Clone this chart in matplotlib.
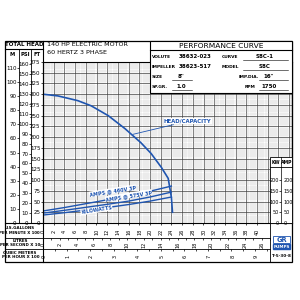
import matplotlib
matplotlib.use('Agg')
import matplotlib.pyplot as plt
from matplotlib.patches import Rectangle
from matplotlib.lines import Line2D
import matplotlib.transforms as mtransforms

plt.rcParams['font.family'] = ['Liberation Sans Narrow', 'DejaVu Sans']

# ---- data (flow in US gpm x 100) ----
head_flow = [0, 2.8, 6.5, 9.0, 12.2, 15.3, 18.3, 20.2, 22.1, 23.4, 24.0, 24.2]
head_ft = [300, 296, 285, 273, 250, 220, 187, 162, 130, 104, 60, 25]

power_flow = [0, 4, 8, 12, 16, 20, 24]
amps_460 = [56, 72, 90, 108, 127, 148, 172]
amps_575 = [46, 59, 73, 87, 102, 121, 144]
kilowatts = [37, 48, 60, 72, 86, 102, 121]

ft_ticks = list(range(0, 376, 25))
psi_ticks = list(range(0, 161, 10))
m_ticks = list(range(0, 111, 10))
gpm_ticks = list(range(0, 41, 2))
lps_ticks = list(range(0, 27, 2))
m3h_ticks = list(range(0, 10))
kwamp_ticks = [0, 50, 100, 150, 200]

BLUE = '#1f55b0'
W, H = 300, 300


def box(px0, py0, px1, py1):
    # figure-fraction rectangle from pixel corners
    return [px0 / W, 1 - py1 / H, (px1 - px0) / W, (py1 - py0) / H]


fig = plt.figure(figsize=(3, 3), dpi=100)
fig.patch.set_facecolor('white')

# ---- main grid ----
GX0, GX1, GY0, GY1 = 43, 292, 62, 223
XMAX = (GX1 - GX0) / 5.35
ax = fig.add_axes(box(GX0, GY0, GX1, GY1))
ax.set_xlim(0, XMAX)
ax.set_ylim(0, 375)
ax.set_xticks([i * 2 for i in range(24)])
ax.set_xticks([i * 0.4 for i in range(117)], minor=True)
ax.set_yticks(ft_ticks)
ax.set_yticks(list(range(0, 376, 5)), minor=True)
ax.grid(which='minor', color='#c4c4c4', lw=0.25)
ax.grid(which='major', color='#404040', lw=0.5)
ax.tick_params(which='both', length=0, labelleft=False, labelbottom=False)
ax.set_axisbelow(True)
for s in ax.spines.values():
    s.set_linewidth(0.8)

ax.plot(head_flow, head_ft, color=BLUE, lw=1.2, zorder=3)
ax.annotate('HEAD/CAPACITY', xy=(16.3, 205), xytext=(22.6, 237),
            fontsize=3.9, color=BLUE, fontweight='bold', va='center',
            bbox=dict(boxstyle='square,pad=0.05', fc='white', ec='none'),
            arrowprops=dict(arrowstyle='-', color=BLUE, lw=0.6), zorder=4)

ax2 = ax.twinx()
ax2.set_ylim(0, 750)
ax2.axis('off')
for vals, lab, xl, yl in [(amps_460, 'AMPS @ 460V 3P', 13.0, 150),
                          (amps_575, 'AMPS @ 575V 3P', 16.0, 128),
                          (kilowatts, 'KILOWATTS', 10.0, 60)]:
    ax2.plot(power_flow, vals, color=BLUE, lw=1.0)
    ax2.text(xl, yl, lab, fontsize=3.5, color=BLUE, fontweight='bold',
             rotation=9, ha='center', va='center',
             bbox=dict(boxstyle='square,pad=0.05', fc='white', ec='none'))

# ---- overlay for frames and header text ----
ov = fig.add_axes([0, 0, 1, 1])
ov.set_xlim(0, W)
ov.set_ylim(H, 0)
ov.axis('off')
ov.patch.set_alpha(0)


def line(x0, y0, x1, y1, lw=0.8):
    ov.add_line(Line2D([x0, x1], [y0, y1], color='black', lw=lw))


def txt(x, y, s, size=4.5, ha='left', weight='bold', **kw):
    ov.text(x, y, s, fontsize=size, ha=ha, va='center', fontweight=weight, **kw)


# outer frame
ov.add_patch(Rectangle((5, 41), 287, 221, fill=False, ec='black', lw=0.9))
line(43, 41, 43, 262)
line(5, 49, 43, 49)
line(19, 49, 19, 223, 0.6)
line(31, 49, 31, 223, 0.6)
line(5, 223, 43, 223)
txt(24, 45, 'TOTAL HEAD', 4.0, 'center')
txt(12, 54, 'M', 3.8, 'center')
txt(25, 54, 'PSI', 3.8, 'center')
txt(37, 54, 'FT', 3.8, 'center')
txt(47, 45, '140 HP ELECTRIC MOTOR', 4.6, weight='normal')
txt(47, 52.5, '60 HERTZ 3 PHASE', 4.6, weight='normal')

# performance box
ov.add_patch(Rectangle((150, 41), 142, 52, fc='white', ec='black', lw=0.8))
line(150, 50, 292, 50)
txt(221, 45.5, 'PERFORMANCE CURVE', 5.4, 'center', weight='normal')
rows = [(57, 'VOLUTE', '38632-023', 'CURVE', 'S8C-1'),
        (67, 'IMPELLER', '38623-517', 'MODEL', 'S8C')]
for y, a, b, c, d in rows:
    txt(152, y, a, 3.2)
    txt(179, y, b, 4.0)
    txt(222, y, c, 3.2)
    txt(265, y, d, 4.0, 'center')
    line(243, y + 3, 288, y + 3, 0.4)
txt(152, 77, 'SIZE', 3.2)
txt(181, 77, '8"', 4.0, 'center')
line(172, 80, 192, 80, 0.4)
txt(239, 77, 'IMP.DIA.', 3.2)
txt(269, 77, '16"', 4.0, 'center')
line(259, 80, 288, 80, 0.4)
txt(152, 87, 'SP.GR.', 3.2)
txt(181, 87, '1.0', 4.0, 'center')
line(172, 90, 192, 90, 0.4)
txt(245, 87, 'RPM', 3.2)
txt(269, 87, '1750', 4.0, 'center')
line(259, 90, 288, 90, 0.4)

# bottom rows
line(5, 238, 270, 238, 0.6)
line(5, 249, 270, 249, 0.6)
line(270, 223, 270, 262, 0.6)
txt(20, 228, 'U.S.GALLONS', 2.9, 'center')
txt(19.5, 232.5, 'PER MINUTE X 100', 2.8, 'center')
txt(20, 241.5, 'LITRES', 2.9, 'center')
txt(20.5, 245.5, 'PER SECOND X 10', 2.9, 'center')
txt(20, 252.5, 'CUBIC METERS', 2.9, 'center')
txt(20.5, 257, 'PER HOUR X 100', 2.9, 'center')

# logo
ov.add_patch(Rectangle((273, 236), 17, 7, fc='white', ec=BLUE, lw=0.6))
txt(281.5, 239.5, 'GR', 4.8, 'center', color=BLUE)
ov.add_patch(Rectangle((273, 244), 17, 5, fc=BLUE, ec=BLUE))
txt(281.5, 246.5, 'PUMPS', 3.0, 'center', color='white')
txt(281, 256, 'T-5-30-8', 3.0, 'center')


# ---- scale axes ----
def vscale(px, top, ymax, ticks, size=4.0):
    a = fig.add_axes(box(px, top, px + 0.01, GY1))
    a.set_ylim(0, ymax)
    a.set_yticks(ticks)
    a.set_yticklabels([str(t) for t in ticks])
    a.tick_params(axis='y', length=1.5, width=0.5, pad=0.4, labelsize=size)
    a.set_xticks([])
    for s in a.spines.values():
        s.set_visible(False)
    a.patch.set_alpha(0)
    return a


vscale(43, GY0, 375, ft_ticks)
vscale(31, GY0, 375 / 2.31, psi_ticks)
vscale(19, GY0, 375 / 3.281, m_ticks)

# KW / AMP box
ov.add_patch(Rectangle((270, 157), 22, 66, fc='white', ec='black', lw=0.6))
line(270, 167, 292, 167, 0.6)
line(281, 157, 281, 223, 0.5)
txt(275.5, 162, 'KW', 3.3, 'center')
txt(286.5, 162, 'AMP', 3.3, 'center')
ka = vscale(281, GY0, 750, kwamp_ticks, 3.5)
ka.tick_params(axis='y', labelright=True, length=1.2)


def hscale(top, bot, xmax, ticks, minor):
    a = fig.add_axes(box(GX0, top, 270, bot))
    a.set_xlim(0, xmax * (270 - GX0) / (GX1 - GX0))
    a.set_ylim(0, 1)
    a.set_xticks(ticks)
    a.set_xticks(minor, minor=True)
    a.xaxis.tick_top()
    a.tick_params(axis='x', which='both', direction='in', length=1.5,
                  width=0.5, labeltop=False)
    a.set_yticks([])
    for s in a.spines.values():
        s.set_visible(False)
    a.patch.set_alpha(0)
    tr = mtransforms.blended_transform_factory(a.transData, a.transAxes)
    for t in ticks:
        a.text(t + 0.05, 0.42, str(t), rotation=90, fontsize=3.6,
               ha='center', va='center', transform=tr)
    return a


hscale(223, 238, XMAX, gpm_ticks, [])
hscale(238, 249, XMAX * 100 / 158.5, lps_ticks, [t + 1 for t in lps_ticks])
hscale(249, 262, XMAX * 0.2271, m3h_ticks, [t + 0.5 for t in m3h_ticks])

fig.savefig('out.png', dpi=100)
